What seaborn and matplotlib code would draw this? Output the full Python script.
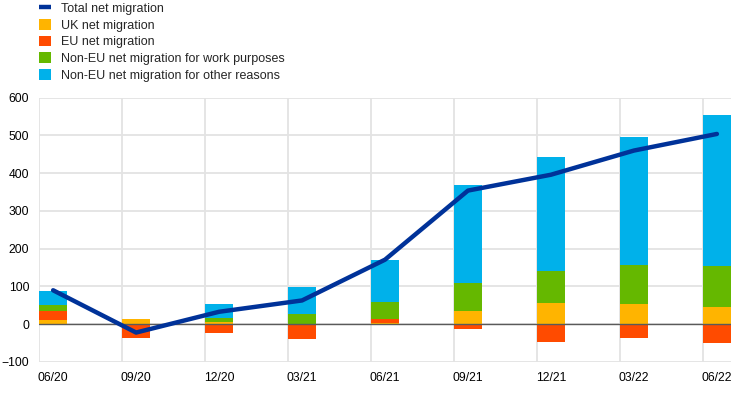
import matplotlib
matplotlib.use("Agg")
import matplotlib.pyplot as plt
import numpy as np
import seaborn as sns
from matplotlib.lines import Line2D
from matplotlib.patches import Patch

periods = ["06/20", "09/20", "12/20", "03/21", "06/21", "09/21", "12/21", "03/22", "06/22"]
uk = [10, 15, 6, 0, 3, 35, 56, 54, 46]
eu = [25, -37, -22, -38, 11, -13, -47, -37, -51]
work = [15, 0, 10, 26, 44, 75, 86, 102, 108]
other = [37, 0, 38, 73, 113, 259, 301, 339, 400]
total = [90, -22, 33, 63, 171, 354, 396, 460, 504]

series = [
    ("UK net migration", uk, "#FFB400"),
    ("EU net migration", eu, "#FF4B00"),
    ("Non-EU net migration for work purposes", work, "#65B800"),
    ("Non-EU net migration for other reasons", other, "#00B1EA"),
]
LINE_COLOR = "#003299"

sns.set_theme(style="white")
plt.rcParams["font.family"] = ["Liberation Sans", "DejaVu Sans"]

fig = plt.figure(figsize=(7.44, 3.93), dpi=100)
ax = fig.add_axes([39 / 744, 1 - 362 / 393, 692 / 744, (362 - 97.7) / 393])

x = np.arange(len(periods))
width = 0.33

# stacked bars, positives and negatives accumulate separately
pos_base = np.zeros(len(periods))
neg_base = np.zeros(len(periods))
for name, vals, color in series:
    v = np.array(vals, dtype=float)
    bottom = np.where(v >= 0, pos_base, neg_base)
    ax.bar(x, v, width, bottom=bottom, color=color, linewidth=0, zorder=3)
    pos_base += np.clip(v, 0, None)
    neg_base += np.clip(v, None, 0)

sns.lineplot(x=x, y=total, ax=ax, color=LINE_COLOR, linewidth=3.2, zorder=5, legend=False)

ax.set_xlim(-width / 2 - 0.005, len(periods) - 1 + width / 2 + 0.005)
ax.set_ylim(-100, 600)
ax.set_yticks(np.arange(-100, 601, 100))
ax.set_xticks(x)
ax.set_xticklabels(periods)
ax.tick_params(axis="both", length=0, labelsize=8.7, colors="black")
ax.tick_params(axis="y", pad=7)
ax.tick_params(axis="x", pad=7)

for yv in np.arange(-100, 601, 100):
    ax.axhline(yv, color="#E3E3E3", linewidth=1.3, zorder=1)
for xv in x - width / 2:
    ax.axvline(xv, color="#E3E3E3", linewidth=1.3, zorder=1)
ax.axhline(0, color="#5A5A5A", linewidth=1.0, zorder=4)

for s in ax.spines.values():
    s.set_visible(False)
ax.set_xlabel("")
ax.set_ylabel("")

handles = [Line2D([0], [0], color=LINE_COLOR, linewidth=3.2, solid_capstyle="butt")]
handles += [Patch(facecolor=c, edgecolor="none") for _, _, c in series]
labels = ["Total net migration"] + [n for n, _, _ in series]
fig.legend(handles, labels, loc="upper left", bbox_to_anchor=(0.046, 1.007),
           frameon=False, fontsize=9, handlelength=0.95, handleheight=0.95,
           handletextpad=0.8, labelspacing=0.32, borderaxespad=0)

fig.savefig("out.png", dpi=100)
